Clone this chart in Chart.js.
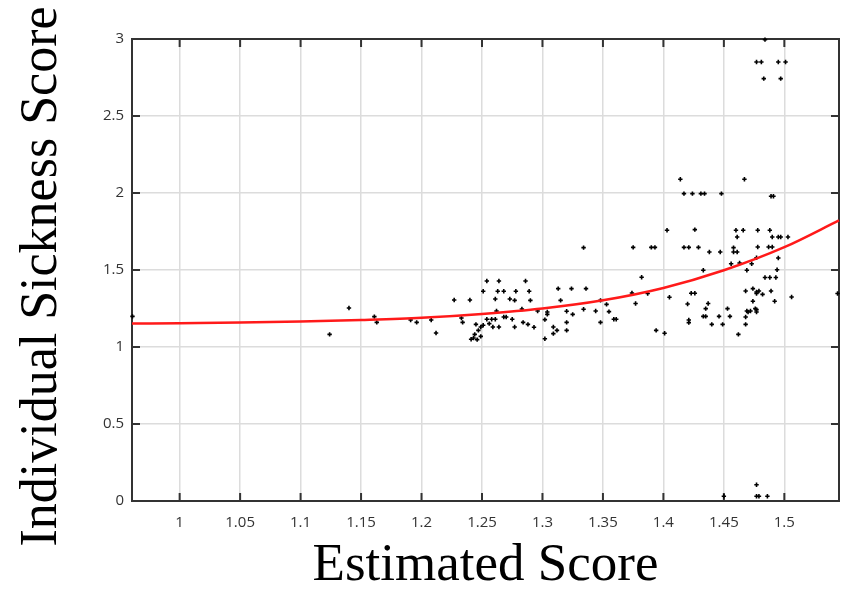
<!DOCTYPE html>
<html>
<head>
<meta charset="utf-8">
<script src="https://cdn.jsdelivr.net/npm/chart.js@4.4.1/dist/chart.umd.min.js"></script>
<style>
  html, body { margin: 0; padding: 0; background: #ffffff; }
  #wrap { width: 848px; height: 590px; }
</style>
</head>
<body>
<div id="wrap"><canvas id="c" width="848" height="590"></canvas></div>
<script>
// ---- Data ----
const estimatedScore = [
  0.961, 1.124, 1.140, 1.161, 1.163, 1.191, 1.196, 1.208, 1.212, 1.227, 1.240, 1.233, 1.234,
  1.254, 1.264, 1.286, 1.251, 1.263, 1.268, 1.278, 1.289, 1.313, 1.324, 1.336, 1.334, 1.261,
  1.273, 1.277, 1.290, 1.315, 1.262, 1.283, 1.296, 1.304, 1.304, 1.320, 1.325, 1.334, 1.254,
  1.258, 1.261, 1.268, 1.270, 1.275, 1.284, 1.288, 1.293, 1.277, 1.264, 1.259, 1.256, 1.251,
  1.249, 1.245, 1.247, 1.244, 1.241, 1.246, 1.249, 1.243, 1.302, 1.302, 1.309, 1.312, 1.309,
  1.320, 1.320, 1.375, 1.390, 1.393, 1.417, 1.421, 1.429, 1.403, 1.382, 1.374, 1.387, 1.405,
  1.423, 1.426, 1.348, 1.353, 1.377, 1.420, 1.344, 1.355, 1.348, 1.359, 1.361, 1.421, 1.421,
  1.394, 1.401, 1.414, 1.467, 1.417, 1.424, 1.431, 1.434, 1.448, 1.426, 1.460, 1.466, 1.478,
  1.461, 1.438, 1.447, 1.458, 1.458, 1.461, 1.478, 1.456, 1.463, 1.469, 1.433, 1.437, 1.435,
  1.433, 1.435, 1.446, 1.453, 1.455, 1.440, 1.449, 1.468, 1.474, 1.477, 1.474, 1.469, 1.472,
  1.477, 1.468, 1.468, 1.462, 1.489, 1.491, 1.488, 1.490, 1.495, 1.497, 1.503, 1.487, 1.490,
  1.495, 1.477, 1.473, 1.494, 1.484, 1.488, 1.493, 1.479, 1.482, 1.477, 1.489, 1.506, 1.544,
  1.492, 1.470, 1.476, 1.477, 1.484, 1.477, 1.481, 1.495, 1.501, 1.483, 1.497, 1.450, 1.477,
  1.477, 1.479, 1.486
];
const sicknessScore = [
  1.199, 1.082, 1.253, 1.197, 1.160, 1.175, 1.160, 1.175, 1.091, 1.305, 1.305, 1.188, 1.160,
  1.429, 1.429, 1.429, 1.362, 1.362, 1.362, 1.362, 1.362, 1.379, 1.379, 1.379, 1.645, 1.312,
  1.312, 1.303, 1.303, 1.303, 1.234, 1.247, 1.234, 1.227, 1.212, 1.232, 1.212, 1.245, 1.180,
  1.180, 1.180, 1.195, 1.195, 1.180, 1.160, 1.147, 1.128, 1.130, 1.130, 1.130, 1.152, 1.141,
  1.130, 1.147, 1.108, 1.082, 1.050, 1.048, 1.069, 1.058, 1.178, 1.054, 1.130, 1.108, 1.087,
  1.160, 1.108, 1.647, 1.647, 1.647, 1.647, 1.647, 1.647, 1.758, 1.453, 1.351, 1.347, 1.323,
  1.349, 1.349, 1.303, 1.277, 1.282, 1.279, 1.234, 1.230, 1.160, 1.180, 1.180, 1.175, 1.158,
  1.108, 1.089, 2.089, 2.089, 1.996, 1.996, 1.996, 1.996, 1.996, 1.762, 1.758, 1.758, 1.758,
  1.714, 1.617, 1.617, 1.645, 1.617, 1.617, 1.649, 1.541, 1.545, 1.498, 1.498, 1.282, 1.249,
  1.199, 1.199, 1.199, 1.249, 1.199, 1.147, 1.147, 1.364, 1.379, 1.357, 1.297, 1.234, 1.234,
  1.243, 1.195, 1.147, 1.082, 1.979, 1.979, 1.758, 1.714, 1.714, 1.714, 1.714, 1.649, 1.649,
  1.578, 1.580, 1.541, 1.502, 1.451, 1.451, 1.451, 1.364, 1.342, 1.347, 1.364, 1.325, 1.347,
  1.297, 1.227, 1.249, 1.227, 2.996, 2.851, 2.851, 2.851, 2.851, 2.743, 2.743, 0.031, 0.106,
  0.031, 0.031, 0.031
];
const fitX = [0.9606, 1.0, 1.05, 1.1, 1.15, 1.2, 1.25, 1.3, 1.35, 1.4, 1.45, 1.5, 1.5452];
const fitY = [1.152, 1.155, 1.159, 1.166, 1.176, 1.190, 1.215, 1.250, 1.303, 1.383, 1.498, 1.648, 1.822];
const xTickValues = [1, 1.05, 1.1, 1.15, 1.2, 1.25, 1.3, 1.35, 1.4, 1.45, 1.5];
const xTickLabels = ['1', '1.05', '1.1', '1.15', '1.2', '1.25', '1.3', '1.35', '1.4', '1.45', '1.5'];
const yTickValues = [0, 0.5, 1, 1.5, 2, 2.5, 3];
const yTickLabels = ['0', '0.5', '1', '1.5', '2', '2.5', '3'];
const xRange = [0.9606, 1.5452];
const yRange = [0, 3];
const xTitle = 'Estimated Score';
const yTitle = 'Individual Sickness Score ';

// ---- Build datasets ----
const scatterPoints = estimatedScore.map((x, i) => ({ x: x, y: sicknessScore[i] }));
const fitPoints = fitX.map((x, i) => ({ x: x, y: fitY[i] }));

const frameColor = '#333333';
const framePlugin = {
  id: 'frame',
  beforeDatasetsDraw(chart) {
    const { ctx, chartArea: a, scales } = chart;
    const tick = 8;
    ctx.save();
    ctx.strokeStyle = frameColor;
    ctx.lineWidth = 2;
    ctx.beginPath();
    xTickValues.forEach(v => {
      const px = scales.x.getPixelForValue(v);
      ctx.moveTo(px, a.bottom); ctx.lineTo(px, a.bottom - tick);
      ctx.moveTo(px, a.top); ctx.lineTo(px, a.top + tick);
    });
    yTickValues.forEach(v => {
      const py = scales.y.getPixelForValue(v);
      ctx.moveTo(a.left, py); ctx.lineTo(a.left + tick, py);
      ctx.moveTo(a.right, py); ctx.lineTo(a.right - tick, py);
    });
    ctx.stroke();
    ctx.strokeRect(a.left, a.top, a.right - a.left, a.bottom - a.top);
    ctx.restore();
  }
};

const tickFont = { family: '"Open Sans", sans-serif', size: 15 };
const tickColor = '#333333';
const gridColor = '#dcdcdc';

new Chart(document.getElementById('c'), {
  data: {
    datasets: [
      {
        type: 'line',
        data: fitPoints,
        borderColor: '#ff1a1a',
        borderWidth: 2.5,
        pointRadius: 0,
        fill: false,
        cubicInterpolationMode: 'monotone',
        order: 0,
        clip: false
      },
      {
        type: 'scatter',
        data: scatterPoints,
        pointStyle: 'cross',
        radius: 2.2,
        borderWidth: 1.6,
        borderColor: '#000000',
        backgroundColor: '#000000',
        order: 1,
        clip: false
      }
    ]
  },
  options: {
    responsive: false,
    animation: false,
    events: [],
    layout: { padding: { top: 39, right: 9, left: 0, bottom: 0 } },
    plugins: { legend: { display: false }, tooltip: { enabled: false } },
    scales: {
      x: {
        type: 'linear',
        min: xRange[0],
        max: xRange[1],
        afterBuildTicks: s => { s.ticks = xTickValues.map(v => ({ value: v })); },
        afterFit: s => { s.height = 89; },
        ticks: {
          callback: (v, i) => xTickLabels[i],
          font: tickFont,
          color: tickColor,
          padding: 13,
          maxRotation: 0,
          autoSkip: false
        },
        grid: { color: gridColor, lineWidth: 1.5, drawTicks: false },
        border: { display: false },
        title: {
          display: true,
          text: xTitle,
          color: '#000000',
          font: { family: '"Liberation Serif", "Times New Roman", serif', size: 53, lineHeight: 0.9 },
          padding: { top: 0, bottom: 0 }
        }
      },
      y: {
        type: 'linear',
        min: yRange[0],
        max: yRange[1],
        afterBuildTicks: s => { s.ticks = yTickValues.map(v => ({ value: v })); },
        afterFit: s => { s.width = 132; },
        ticks: {
          callback: (v, i) => yTickLabels[i],
          font: tickFont,
          color: tickColor,
          padding: 8,
          autoSkip: false
        },
        grid: { color: gridColor, lineWidth: 1.5, drawTicks: false },
        border: { display: false },
        title: {
          display: true,
          text: yTitle,
          color: '#000000',
          font: { family: '"Liberation Serif", "Times New Roman", serif', size: 52, lineHeight: 1 },
          padding: { top: 16, bottom: 0 }
        }
      }
    }
  },
  plugins: [framePlugin]
});
</script>
</body>
</html>
